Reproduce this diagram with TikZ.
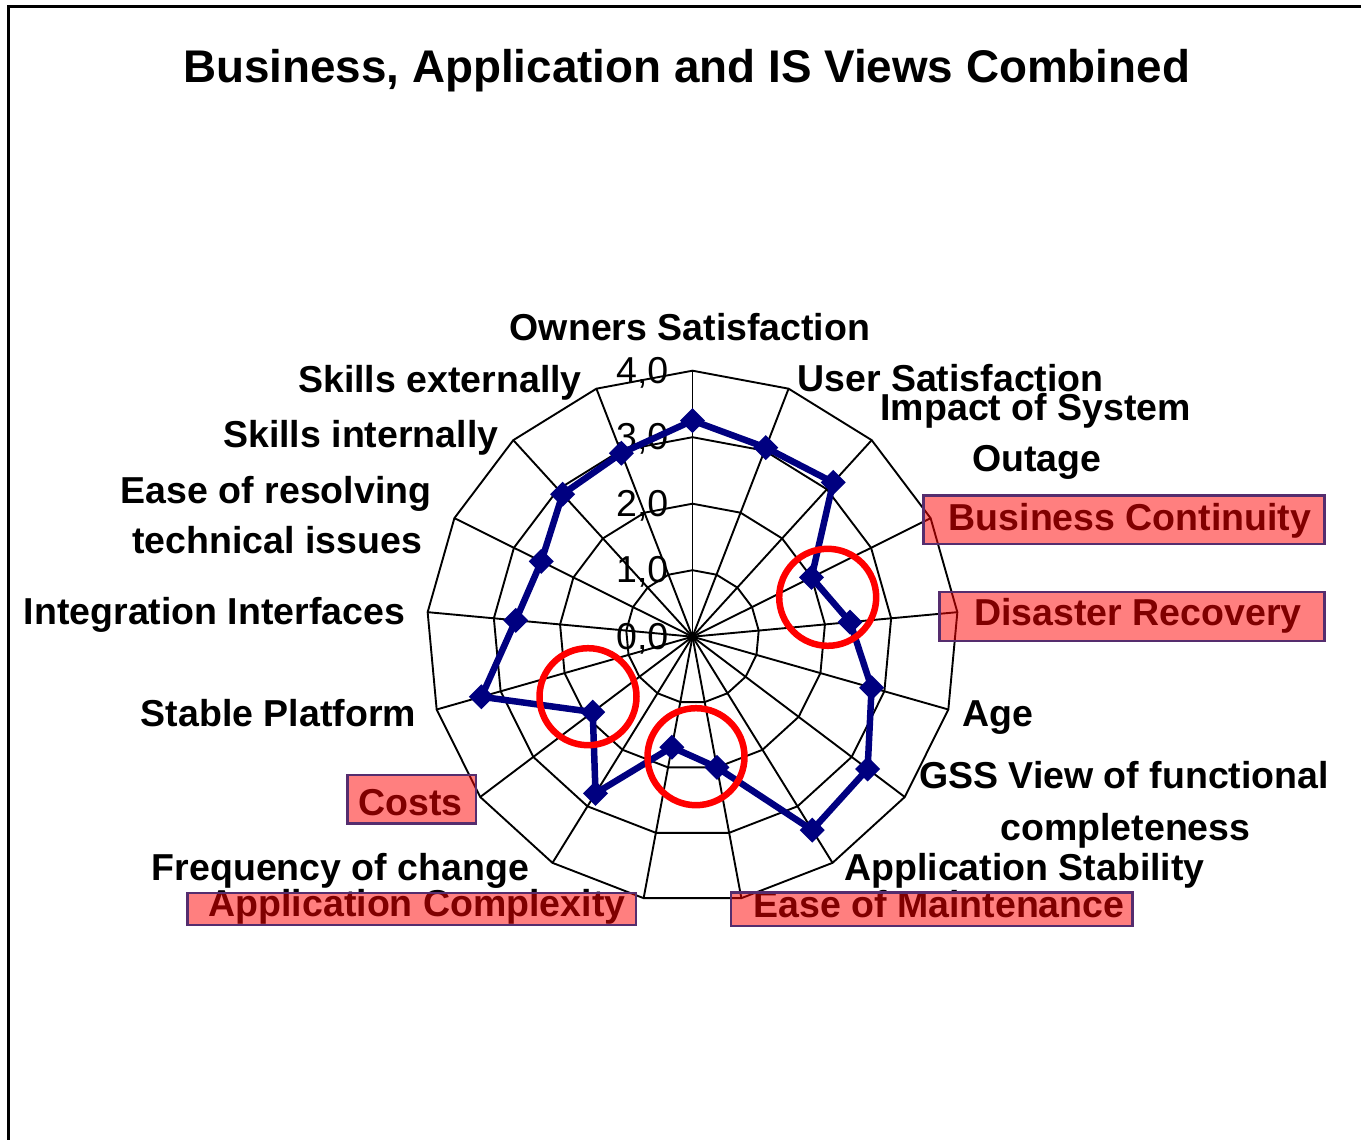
\documentclass[tikz,border=0pt]{standalone}
\usepackage{fontspec}
\setmainfont{Liberation Sans}
\usetikzlibrary{calc}
\definecolor{navyser}{RGB}{0,0,128}
\definecolor{boxedge}{RGB}{85,45,110}
\begin{document}
\begin{tikzpicture}[x=1pt,y=-1pt,
  grid/.style={line width=1.9pt,black,line join=miter},
  lbl/.style={inner sep=0pt,anchor=base,font=\fontsize{37.5}{45}\selectfont\bfseries},
  ticklbl/.style={inner sep=0pt,anchor=base east,font=\fontsize{37.5}{45}\selectfont},
  hilite/.style={fill=red,fill opacity=0.5,draw=boxedge,line width=2.4pt},
  series/.style={navyser,line width=6.5pt,line join=round},
  mk/.style={fill=navyser,draw=none},
  ringmark/.style={circle,draw=red,line width=6.5pt,minimum size=97pt,inner sep=0pt}]
\useasboundingbox (0,0) rectangle (1361,1140);
\fill[white] (0,0) rectangle (1361,1140);
\draw[line width=2.8pt] (8.5,1150) -- (8.5,6.5) -- (1370,6.5);
\node[lbl,font=\fontsize{45.8}{55}\selectfont\bfseries] (title) at (686.5,82.5) {Business, Application and IS Views Combined};
\coordinate (C) at (692.5,636.7);
% axis ends
\foreach \k in {0,...,16}{
  \coordinate (o\k) at ($(C)+({-90+\k*360/17}:266)$);
}
% rings
\foreach \r in {1,2,3,4}{
  \draw[grid] ($(C)+(-90:\r*66.5)$) \foreach \k in {1,...,16}{ -- ($(C)+({-90+\k*360/17}:\r*66.5)$)} -- cycle;
}
% spokes
\foreach \k in {0,...,16}{
  \draw[grid] (C) -- (o\k);
}
% tick labels
\foreach \r/\t in {0/{0,0},1/{1,0},2/{2,0},3/{3,0},4/{4,0}}{
  \node[ticklbl] (t\r) at (668.5,{636.7-\r*66.5+12.6}) {\t};
}
% data
\foreach \v [count=\i from 0] in {3.25,3.05,3.14,2.0,2.38,2.8,3.3,3.42,2.0,1.69,2.77,1.88,3.3,2.67,2.54,2.9,2.96}{
  \coordinate (d\i) at ($(C)+({-90+\i*360/17}:\v*66.5)$);
}
\draw[series] (d0) \foreach \i in {1,...,16}{ -- (d\i)} -- cycle;
\foreach \i in {0,...,16}{
  \fill[mk] (d\i) ++(-12.5,0) -- ++(12.5,-12.5) -- ++(12.5,12.5) -- ++(-12.5,12.5) -- cycle;
}
% red circles
\node[ringmark] (c1) at (827.7,597.3) {};
\node[ringmark] (c2) at (588,696.7) {};
\node[ringmark] (c3) at (696,756.7) {};
% category labels
\node[lbl] (l0) at (690,340.7) {Owners Satisfaction};
\node[lbl] (l1) at (950.5,391.7) {User Satisfaction};
\node[lbl] (l2a) at (1035.8,420.7) {Impact of System};
\node[lbl] (l2b) at (1036.7,471.7) {Outage};
\node[lbl] (l3) at (1130,530) {Business Continuity};
\node[lbl] (l4) at (1138,625.7) {Disaster Recovery};
\node[lbl] (l5) at (997.5,726) {Age};
\node[lbl] (l6a) at (1124,788) {GSS View of functional};
\node[lbl] (l6b) at (1125.5,840) {completeness};
\node[lbl] (l7) at (1024.5,880) {Application Stability};
\node[lbl] (l8) at (939,917.3) {Ease of Maintenance};
\node[lbl] (l9) at (417,916.7) {Application Complexity};
\node[lbl] (l10) at (340.5,880.7) {Frequency of change};
\node[lbl] (l11) at (410.3,815) {Costs};
\node[lbl] (l12) at (278.5,726) {Stable Platform};
\node[lbl] (l13) at (214.5,624) {Integration Interfaces};
\node[lbl] (l14a) at (276.2,503.3) {Ease of resolving};
\node[lbl] (l14b) at (277.2,553.3) {technical issues};
\node[lbl] (l15) at (360.8,447.7) {Skills internally};
\node[lbl] (l16) at (440,392.7) {Skills externally};
% highlight boxes
\draw[hilite] (923.3,495.3) rectangle (1324.3,544);
\draw[hilite] (939.3,591.7) rectangle (1324.3,640.7);
\draw[hilite] (347.3,774.7) rectangle (476,823.3);
\draw[hilite] (187.3,892.7) rectangle (636,925);
\draw[hilite] (731,892.3) rectangle (1132.3,925.7);
\end{tikzpicture}
\end{document}
